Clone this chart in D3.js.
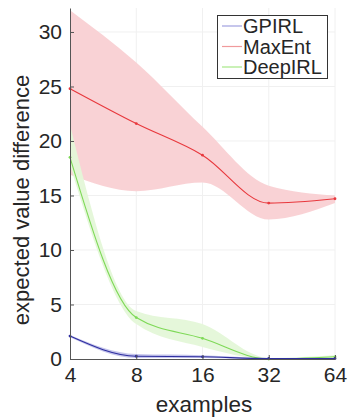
<!DOCTYPE html>
<html lang="en">
<head>
  <meta charset="UTF-8">
  <title>Expected value difference</title>
  <script src="https://cdn.jsdelivr.net/npm/d3@7"></script>
  <style>
    html, body { margin: 0; padding: 0; background: #fff; }
    svg text { font-family: "Liberation Sans", Arial, sans-serif; fill: #262626; }
  </style>
</head>
<body>
<svg width="348" height="420"></svg>
<script>
  // data
  var examples = [4, 8, 16, 32, 64];
  var xTicks = [4, 8, 16, 32, 64];
  var yTicks = [0, 5, 10, 15, 20, 25, 30];

  var gpirlMean = [2.1, 0.25, 0.2, 0.05, 0.05];
  var gpirlLow  = [2.0, 0.1, 0.1, 0.0, 0.0];
  var gpirlHigh = [2.2, 0.45, 0.35, 0.1, 0.1];

  var maxentMean = [24.8, 21.6, 18.7, 14.3, 14.7];
  var maxentLow  = [16.9, 15.4, 16.2, 12.8, 14.3];
  var maxentHigh = [32.0, 27.2, 21.3, 15.9, 15.0];

  var deepMean = [18.5, 3.8, 1.9, 0.0, 0.2];
  var deepLow  = [17.8, 3.2, 1.1, 0.0, 0.1];
  var deepHigh = [21.5, 4.4, 3.2, 0.1, 0.35];

  var series = [
    { name: "GPIRL", mean: gpirlMean, low: gpirlLow, high: gpirlHigh, line: "#2e2ea0", band: "#c2c2ea", key: "#a0a0e0" },
    { name: "MaxEnt", mean: maxentMean, low: maxentLow, high: maxentHigh, line: "#e8383d", band: "#f9d0d3", key: "#f09a9c" },
    { name: "DeepIRL", mean: deepMean, low: deepLow, high: deepHigh, line: "#7ed957", band: "#e4f7d8", key: "#a6e886" }
  ];

  var svg = d3.select("svg");
  var plotLeft = 70, plotRight = 335, plotTop = 8, plotBottom = 359;

  var x = d3.scaleLog().base(2).domain([4, 64]).range([plotLeft, plotRight]);
  var y = d3.scaleLinear().domain([0, 32.2]).range([plotBottom, plotTop]);

  // grid
  var grid = svg.append("g").attr("stroke", "#f0f0f0").attr("stroke-width", 1);
  grid.selectAll("line.v").data(xTicks.slice(1)).enter().append("line")
    .attr("x1", function (d) { return x(d); }).attr("x2", function (d) { return x(d); })
    .attr("y1", plotTop).attr("y2", plotBottom);
  grid.selectAll("line.h").data(yTicks.slice(1)).enter().append("line")
    .attr("x1", plotLeft).attr("x2", plotRight)
    .attr("y1", function (d) { return y(d); }).attr("y2", function (d) { return y(d); });

  var curve = d3.curveMonotoneX;

  var area = d3.area()
    .x(function (d) { return x(d.x); })
    .y0(function (d) { return y(d.lo); })
    .y1(function (d) { return y(d.hi); })
    .curve(curve);

  var line = d3.line()
    .x(function (d) { return x(d.x); })
    .y(function (d) { return y(d.m); })
    .curve(curve);

  function rows(s) {
    return examples.map(function (e, i) { return { x: e, m: s.mean[i], lo: s.low[i], hi: s.high[i] }; });
  }

  // bands, MaxEnt first so the others sit on top
  [series[1], series[2], series[0]].forEach(function (s) {
    svg.append("path").datum(rows(s)).attr("d", area).attr("fill", s.band).attr("opacity", 0.95);
  });

  [series[1], series[2], series[0]].forEach(function (s) {
    svg.append("path").datum(rows(s)).attr("d", line)
      .attr("fill", "none").attr("stroke", s.line).attr("stroke-width", 1.1);
    svg.append("g").selectAll("circle").data(rows(s)).enter().append("circle")
      .attr("cx", function (d) { return x(d.x); })
      .attr("cy", function (d) { return y(d.m); })
      .attr("r", 1.4).attr("fill", s.line);
  });

  // axes
  var xAxis = d3.axisBottom(x).tickValues(xTicks).tickFormat(d3.format("d")).tickSizeInner(-4).tickSizeOuter(0).tickPadding(8);
  var gx = svg.append("g").attr("transform", "translate(0," + plotBottom + ")").call(xAxis);
  gx.select(".domain").attr("stroke", "#555");
  gx.selectAll(".tick line").attr("stroke", "#555");
  gx.selectAll("text").attr("font-size", 21).attr("fill", "#262626").attr("font-family", "Liberation Sans, Arial, sans-serif");

  var yAxis = d3.axisLeft(y).tickValues(yTicks).tickSizeInner(-4).tickSizeOuter(0).tickPadding(8);
  var gy = svg.append("g").attr("transform", "translate(" + plotLeft + ",0)").call(yAxis);
  gy.select(".domain").attr("stroke", "#555");
  gy.selectAll(".tick line").attr("stroke", "#555");
  gy.selectAll("text").attr("font-size", 21).attr("fill", "#262626").attr("font-family", "Liberation Sans, Arial, sans-serif");

  svg.append("text").attr("x", 204).attr("y", 412).attr("text-anchor", "middle")
    .attr("font-size", 22.5).text("examples");
  svg.append("text").attr("transform", "translate(29,200) rotate(-90)").attr("text-anchor", "middle")
    .attr("font-size", 22).text("expected value difference");

  // legend
  var lg = svg.append("g");
  lg.append("rect").attr("x", 217.5).attr("y", 15.5).attr("width", 110).attr("height", 63)
    .attr("fill", "#fff").attr("stroke", "#333").attr("stroke-width", 1);
  series.forEach(function (s, i) {
    var cy = 26 + i * 20.5;
    lg.append("line").attr("x1", 222).attr("x2", 242).attr("y1", cy).attr("y2", cy)
      .attr("stroke", s.key).attr("stroke-width", 1.2);
    lg.append("text").attr("x", 243).attr("y", cy + 7).attr("font-size", 20).text(s.name);
  });
</script>
</body>
</html>
